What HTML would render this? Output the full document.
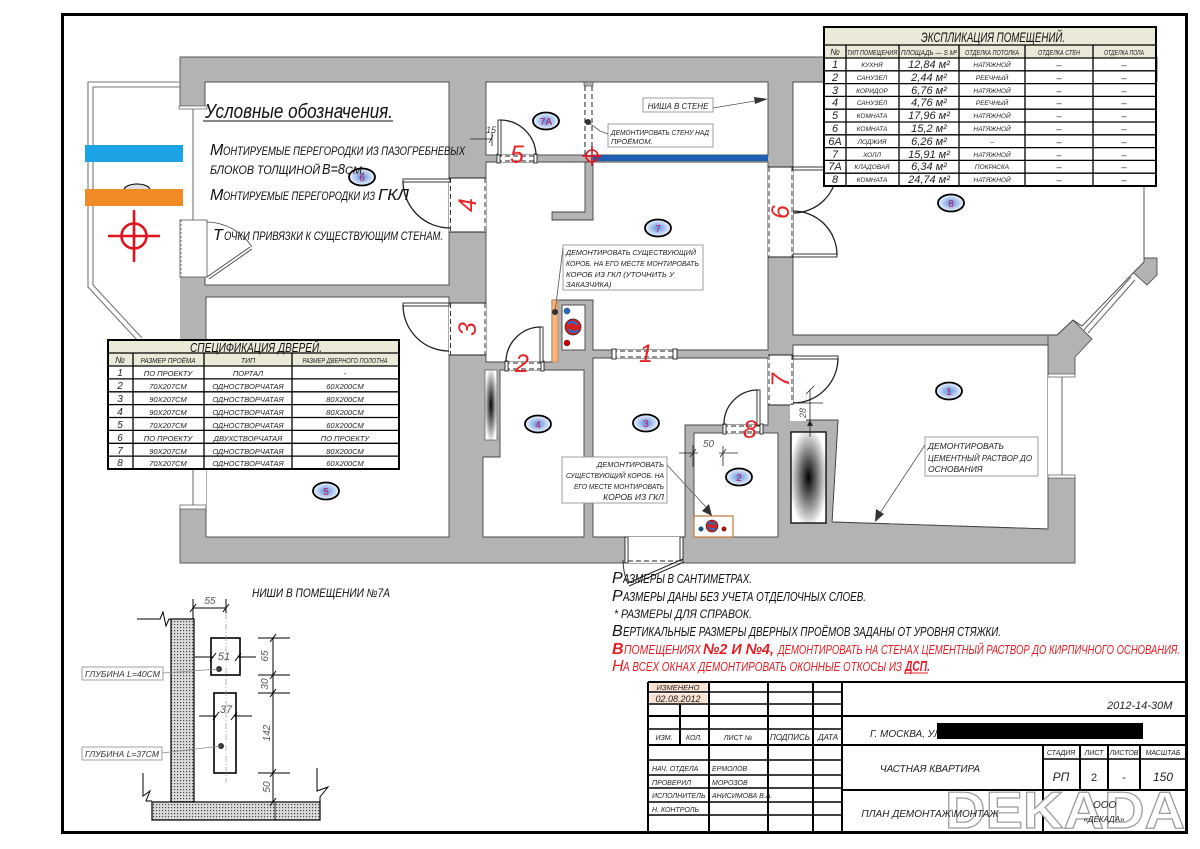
<!DOCTYPE html>
<html><head><meta charset="utf-8">
<style>
html,body{margin:0;padding:0;background:#fff;}
svg{display:block;}
svg text{font-family:"Liberation Sans","DejaVu Sans",sans-serif;font-style:italic;}
</style></head><body>
<svg width="1200" height="849" viewBox="0 0 1200 849" xmlns="http://www.w3.org/2000/svg">
<defs>
<radialGradient id="lbl" cx="50%" cy="50%" r="50%"><stop offset="0" stop-color="#5a8ee0"/><stop offset="1" stop-color="#f3f6fc"/></radialGradient>
<radialGradient id="vent" cx="50%" cy="50%" r="55%"><stop offset="0" stop-color="#000"/><stop offset="1" stop-color="#fff"/></radialGradient>
<pattern id="hatch" width="3" height="3" patternUnits="userSpaceOnUse"><rect width="3" height="3" fill="#dcdcdc"/><rect width="1.2" height="1.2" fill="#444"/></pattern>
</defs>

<!-- frame -->
<rect x="62.5" y="14.5" width="1124" height="818" fill="none" stroke="#000" stroke-width="3"/>

<!-- wall base -->
<g fill="#b3b3b3">
<rect x="180" y="57" width="895" height="506"/>
<rect x="1075" y="57" width="82" height="25"/>
<polygon points="1048,335 1057,335 1073,320 1092,339 1075,357 1075,375 1048,375"/>
<polygon points="1127,267 1135,258 1157,258 1157,275 1147,285"/>
</g>
<g fill="none" stroke="#555" stroke-width="0.9">
<polyline points="180,107 180,57 1157,57 1157,82"/>
<polyline points="180,508 180,563 1075,563 1075,477"/>
<polygon points="1048,335 1057,335 1073,320 1092,339 1075,357 1075,375 1048,375"/>
<polygon points="1127,267 1135,258 1157,258 1157,275 1147,285"/>
</g>

<!-- rooms -->
<g fill="#fff" stroke="#444" stroke-width="0.9">
<rect x="205" y="82" width="244" height="203"/>
<rect x="206" y="297" width="243" height="240"/>
<rect x="486" y="82" width="282" height="73"/>
<polygon points="486,162 768,162 768,350 593,350 593,300 552,300 552,362 486,362"/>
<polygon points="500,370 584,370 584,537 483,537 483,457 500,457"/>
<polygon points="593,358 768,358 768,425 685,425 685,537 593,537"/>
<rect x="694" y="433" width="84" height="104"/>
<polygon points="793,82 1144,82 1144,262 1136,270 1082,326 1073,320 1057,335 793,335"/>
<polygon points="793,345 1048,345 1048,529 832,522 838,420 793,420"/>
</g>
<!-- stub and shaft -->
<polygon points="585,162 593,162 593,220 552,220 552,212 585,212" fill="#b3b3b3" stroke="#444" stroke-width="0.9"/>
<rect x="562" y="305" width="23" height="45" fill="#fff" stroke="#444" stroke-width="0.9"/>
<rect x="552" y="300" width="6" height="62" fill="#f4b67c" stroke="#b07040" stroke-width="0.6"/>
<circle cx="567" cy="311" r="3" fill="#1f6fd0" stroke="#222" stroke-width="0.5"/>
<circle cx="573" cy="327" r="8" fill="#d42020" stroke="#222" stroke-width="0.7"/>
<path d="M568,324 a5,4 0 0,1 9,1 M578,330 a5,4 0 0,1 -9,-1" fill="none" stroke="#1f6fd0" stroke-width="2.2"/>
<circle cx="567" cy="343" r="3" fill="#c00" stroke="#222" stroke-width="0.5"/>

<!-- partition in 7A (dashed) -->
<rect x="584" y="82" width="9" height="73" fill="#fff"/>
<rect x="584" y="82" width="9" height="4" fill="#b3b3b3" stroke="#444" stroke-width="0.6"/>
<g stroke="#222" stroke-width="1" stroke-dasharray="5,3">
<line x1="585" y1="86" x2="585" y2="155"/><line x1="592" y1="86" x2="592" y2="155"/>
</g>
<!-- blue new partition -->
<rect x="593" y="155" width="175" height="6" fill="#1e5fb4"/>

<!-- vents -->
<rect x="485" y="370" width="12" height="70" fill="url(#vent)" stroke="#555" stroke-width="0.7"/>
<polygon points="778,420 838,420 832,522 832,537 778,537" fill="#b3b3b3"/>
<line x1="838" y1="420" x2="832" y2="522" stroke="#444" stroke-width="0.9"/>
<line x1="793" y1="420" x2="838" y2="420" stroke="#444" stroke-width="0.9"/>
<line x1="778" y1="433" x2="778" y2="537" stroke="#444" stroke-width="0.9"/>
<rect x="791" y="432" width="35" height="91" fill="url(#vent)" stroke="#000" stroke-width="1.3"/>
<polygon points="832,522 1048,529 1048,537 832,537" fill="#b3b3b3"/>
<line x1="832" y1="522" x2="1048" y2="529" stroke="#444" stroke-width="0.9"/>

<!-- windows -->
<rect x="180" y="107" width="27" height="113" fill="#fff"/>
<rect x="179" y="106" width="28" height="3" fill="#fff" stroke="#555" stroke-width="0.7"/>
<line x1="193" y1="109" x2="193" y2="220" stroke="#666" stroke-width="1"/>
<rect x="180" y="220" width="27" height="57" fill="#fff" stroke="#555" stroke-width="0.8"/>
<line x1="181" y1="220" x2="181" y2="277" stroke="#555" stroke-width="0.7" stroke-dasharray="2,2"/>
<path d="M207,277 L250,247 M209,279 L252,249" stroke="#444" stroke-width="0.9" fill="none"/>
<path d="M207,222 A55,55 0 0,1 252,247" stroke="#444" stroke-width="0.8" fill="none"/>
<rect x="180" y="345" width="26" height="163" fill="#fff"/>
<line x1="193" y1="345" x2="193" y2="505" stroke="#666" stroke-width="1"/>
<rect x="180" y="505" width="26" height="4" fill="#fff" stroke="#555" stroke-width="0.7"/>
<rect x="1048" y="375" width="28" height="102" fill="#fff"/>
<line x1="1062" y1="375" x2="1062" y2="477" stroke="#666" stroke-width="1"/>
<rect x="1048" y="374" width="27" height="3" fill="#fff" stroke="#555" stroke-width="0.7"/>
<rect x="1048" y="475" width="27" height="3" fill="#fff" stroke="#555" stroke-width="0.7"/>
<path d="M1084,330 L1131,277 M1088,333 L1135,280" stroke="#666" stroke-width="1" fill="none"/>
<!-- balcony -->
<g fill="none" stroke="#777" stroke-width="1.1">
<polyline points="180,82 88,82 88,287 138,341"/>
<polyline points="180,87 93,87 93,285 142,338"/>
</g>

<!-- doors -->
<g stroke="#222" stroke-width="0.9">
<!-- door 4 -->
<rect x="449" y="178" width="37" height="54" fill="#fff" stroke="none"/>
<line x1="449" y1="178" x2="486" y2="178"/><line x1="449" y1="232" x2="486" y2="232"/>
<line x1="450.5" y1="178" x2="450.5" y2="232" stroke-dasharray="5,3"/><line x1="485" y1="178" x2="485" y2="232" stroke-dasharray="5,3"/>
<rect x="403" y="179" width="47" height="3" fill="#fff"/>
<path d="M403,181 A47,47 0 0,0 450,228" fill="none" stroke-width="1.3"/>
<!-- door 3 -->
<rect x="449" y="303" width="37" height="52" fill="#fff" stroke="none"/>
<line x1="449" y1="303" x2="486" y2="303"/><line x1="449" y1="355" x2="486" y2="355"/>
<line x1="450.5" y1="303" x2="450.5" y2="355" stroke-dasharray="5,3"/><line x1="485" y1="303" x2="485" y2="355" stroke-dasharray="5,3"/>
<rect x="403" y="303" width="46" height="3" fill="#fff"/>
<path d="M403,305 A46,46 0 0,0 449,351" fill="none" stroke-width="1.3"/>
<!-- door 5 -->
<rect x="497" y="155" width="40" height="7" fill="#fff" stroke="none"/>
<line x1="497" y1="156" x2="537" y2="156" stroke-dasharray="5,3"/><line x1="497" y1="161" x2="537" y2="161" stroke-dasharray="5,3"/>
<rect x="497" y="154" width="3" height="9" fill="#fff"/><rect x="534" y="154" width="3" height="9" fill="#fff"/>
<rect x="498" y="120" width="3" height="35" fill="#fff"/>
<path d="M500,120 A36,36 0 0,1 536,155" fill="none" stroke-width="1.3"/>
<!-- door 2 -->
<rect x="505" y="362" width="39" height="8" fill="#fff" stroke="none"/>
<line x1="505" y1="363" x2="544" y2="363" stroke-dasharray="5,3"/><line x1="505" y1="369" x2="544" y2="369" stroke-dasharray="5,3"/>
<rect x="505" y="361" width="3" height="10" fill="#fff"/><rect x="541" y="361" width="3" height="10" fill="#fff"/>
<rect x="540" y="327" width="3" height="35" fill="#fff"/>
<path d="M541,327 A35,35 0 0,0 506,362" fill="none" stroke-width="1.3"/>
<!-- door 8 -->
<rect x="723" y="425" width="40" height="8" fill="#fff" stroke="none"/>
<line x1="723" y1="426" x2="763" y2="426" stroke-dasharray="5,3"/><line x1="723" y1="432" x2="763" y2="432" stroke-dasharray="5,3"/>
<rect x="723" y="424" width="3" height="10" fill="#fff"/><rect x="760" y="424" width="3" height="10" fill="#fff"/>
<rect x="757" y="390" width="3" height="35" fill="#fff"/>
<path d="M758,390 A34,34 0 0,0 724,425" fill="none" stroke-width="1.3"/>
<!-- door 1 -->
<rect x="612" y="350" width="65" height="8" fill="#fff" stroke="none"/>
<line x1="612" y1="351" x2="677" y2="351" stroke-dasharray="5,3"/><line x1="612" y1="357" x2="677" y2="357" stroke-dasharray="5,3"/>
<rect x="612" y="349" width="4" height="10" fill="#fff"/><rect x="673" y="349" width="4" height="10" fill="#fff"/>
<!-- door 6 -->
<rect x="768" y="167" width="25" height="90" fill="#fff" stroke="none"/>
<line x1="768" y1="167" x2="793" y2="167"/><line x1="768" y1="257" x2="793" y2="257"/>
<line x1="769" y1="167" x2="769" y2="257" stroke-dasharray="5,3"/><line x1="792" y1="167" x2="792" y2="257" stroke-dasharray="5,3"/>
<rect x="793" y="254" width="44" height="3" fill="#fff"/>
<path d="M837,255 A44,44 0 0,0 793,211" fill="none" stroke-width="1.3"/>
<rect x="793" y="167" width="44" height="3" fill="#fff"/>
<path d="M837,169 A44,44 0 0,1 793,213" fill="none" stroke-width="1.3"/>
<!-- door 7 -->
<rect x="768" y="355" width="25" height="50" fill="#fff" stroke="none"/>
<line x1="768" y1="355" x2="793" y2="355"/><line x1="768" y1="405" x2="793" y2="405"/>
<line x1="769" y1="355" x2="769" y2="405" stroke-dasharray="5,3"/><line x1="792" y1="355" x2="792" y2="405" stroke-dasharray="5,3"/>
<rect x="793" y="356" width="45" height="3" fill="#fff"/>
<path d="M838,358 A45,45 0 0,1 793,403" fill="none" stroke-width="1.3"/>
<!-- entry door -->
<rect x="625" y="537" width="58" height="26" fill="#fff" stroke="none"/>
<rect x="625" y="537" width="3" height="26" fill="#fff"/><rect x="680" y="537" width="3" height="24" fill="#fff"/>
<line x1="628" y1="561" x2="680" y2="561" stroke-dasharray="5,3"/>
<path d="M683,559 L628,583 M684,562 L629,586" fill="none" stroke-width="1"/>
<path d="M628,584 A60,60 0 0,1 623,560" fill="none"/>
</g>

<!-- red door numbers -->
<g fill="#e52528" font-size="25" text-anchor="middle">
<text x="517" y="163">5</text>
<text x="646" y="362">1</text>
<text x="522" y="372">2</text>
<text x="750" y="438">8</text>
<text transform="translate(468,205) rotate(-90)" y="8">4</text>
<text transform="translate(468,329) rotate(-90)" y="8">3</text>
<text transform="translate(781,212) rotate(-90)" y="8">6</text>
<text transform="translate(781,380) rotate(-90)" y="8">7</text>
</g>

<!-- red crosshair in plan -->
<g stroke="#e0141e" stroke-width="1.6" fill="none">
<circle cx="592" cy="156" r="6"/><line x1="582" y1="156" x2="602" y2="156"/><line x1="592" y1="146" x2="592" y2="166"/>
</g>

<!-- dimensions in plan -->
<g stroke="#222" stroke-width="0.8" fill="none">
<line x1="470" y1="139" x2="492" y2="139"/><line x1="489" y1="143" x2="493" y2="135"/><line x1="492" y1="132" x2="492" y2="146"/>
<line x1="679" y1="453" x2="698" y2="453"/><line x1="719" y1="453" x2="738" y2="453"/>
<line x1="693" y1="445" x2="693" y2="467"/><line x1="723" y1="446" x2="723" y2="466"/>
<line x1="690" y1="457" x2="696" y2="449"/><line x1="720" y1="457" x2="726" y2="449"/>
<line x1="810" y1="390" x2="810" y2="437"/><line x1="795" y1="403" x2="823" y2="403"/>
<line x1="806" y1="394" x2="814" y2="386"/>
</g>
<path d="M810,420 l-3,6 l6,0 z" fill="#222"/>
<rect x="790" y="405" width="16" height="16" fill="#fff"/>
<text x="486" y="133" font-size="9" fill="#444">15</text>
<text x="703" y="447" font-size="10" fill="#555">50</text>
<text transform="translate(803,413) rotate(-90)" font-size="9" fill="#555" text-anchor="middle" y="3">28</text>

<!-- shaft in room 2 -->
<rect x="694" y="516" width="39" height="21" fill="#fff" stroke="#c07838" stroke-width="1.2"/>
<circle cx="712" cy="526" r="6" fill="#d42020" stroke="#222" stroke-width="0.6"/>
<path d="M708,524 a4,3 0 0,1 7,1 M716,528 a4,3 0 0,1 -7,-1" fill="none" stroke="#1f6fd0" stroke-width="1.8"/>
<circle cx="701" cy="529" r="2.5" fill="#1f4f90"/><circle cx="724" cy="529" r="2.5" fill="#a01818"/>

<!-- annotation boxes -->
<g fill="#fff" stroke="#888" stroke-width="0.8">
<rect x="643" y="98" width="70" height="14"/>
<rect x="608" y="124" width="105" height="23"/>
<rect x="563" y="245" width="140" height="45"/>
<rect x="562" y="457" width="105" height="46"/>
<rect x="925" y="437" width="113" height="39"/>
</g>
<g stroke="#555" stroke-width="0.8" fill="none">
<line x1="713" y1="108" x2="755" y2="101"/>
<polyline points="588,122 600,131 608,134"/>
<line x1="563" y1="248" x2="555" y2="312"/>
<line x1="667" y1="465" x2="706" y2="507"/>
<line x1="925" y1="445" x2="880" y2="513"/>
</g>
<polygon points="768,99 754,97 755,104" fill="#333"/>
<polygon points="712,516 702,511 709,504" fill="#333"/>
<polygon points="875,522 876,509 884,514" fill="#333"/>
<circle cx="588" cy="122" r="3" fill="#333"/>
<circle cx="555" cy="312" r="3" fill="#333"/>
<g font-size="7.5" fill="#222">
<text x="678" y="109" text-anchor="middle" font-size="8">НИША В СТЕНЕ</text>
<text x="611" y="135" textLength="98" lengthAdjust="spacingAndGlyphs">ДЕМОНТИРОВАТЬ СТЕНУ НАД</text>
<text x="611" y="144">ПРОЁМОМ.</text>
<text x="566" y="255" textLength="130" lengthAdjust="spacingAndGlyphs">ДЕМОНТИРОВАТЬ СУЩЕСТВУЮЩИЙ</text>
<text x="566" y="266" textLength="133" lengthAdjust="spacingAndGlyphs">КОРОБ. НА ЕГО МЕСТЕ МОНТИРОВАТЬ</text>
<text x="566" y="277" textLength="108" lengthAdjust="spacingAndGlyphs">КОРОБ ИЗ ГКЛ (УТОЧНИТЬ У</text>
<text x="566" y="287">ЗАКАЗЧИКА)</text>
<text x="664" y="467" text-anchor="end">ДЕМОНТИРОВАТЬ</text>
<text x="664" y="478" text-anchor="end" textLength="98" lengthAdjust="spacingAndGlyphs">СУЩЕСТВУЮЩИЙ КОРОБ. НА</text>
<text x="664" y="489" text-anchor="end" textLength="90" lengthAdjust="spacingAndGlyphs">ЕГО МЕСТЕ МОНТИРОВАТЬ</text>
<text x="664" y="500" text-anchor="end" font-size="8.5">КОРОБ ИЗ ГКЛ</text>
<text x="928" y="449" font-size="8.5">ДЕМОНТИРОВАТЬ</text>
<text x="928" y="461" font-size="8.5" textLength="104" lengthAdjust="spacingAndGlyphs">ЦЕМЕНТНЫЙ РАСТВОР ДО</text>
<text x="928" y="472" font-size="8.5">ОСНОВАНИЯ</text>
</g>

<!-- room labels -->
<g stroke="#000" stroke-width="1.8" fill="url(#lbl)">
<ellipse cx="546" cy="121" rx="13" ry="8.5"/>
<ellipse cx="362" cy="177" rx="13" ry="8.5"/>
<ellipse cx="658" cy="228" rx="13" ry="8.5"/>
<ellipse cx="951" cy="203" rx="13" ry="8.5"/>
<ellipse cx="326" cy="491" rx="13" ry="8.5"/>
<ellipse cx="538" cy="424" rx="13" ry="8.5"/>
<ellipse cx="646" cy="423" rx="13" ry="8.5"/>
<ellipse cx="739" cy="477" rx="13" ry="8.5"/>
<ellipse cx="949" cy="391" rx="13" ry="8.5"/>
</g>
<g fill="#c3185a" font-size="10" text-anchor="middle" style="font-style:normal">
<text x="546" y="125" style="font-style:normal">7А</text>
<text x="362" y="181" style="font-style:normal">6</text>
<text x="658" y="232" style="font-style:normal">7</text>
<text x="951" y="207" style="font-style:normal">8</text>
<text x="326" y="495" style="font-style:normal">5</text>
<text x="538" y="428" style="font-style:normal">4</text>
<text x="646" y="427" style="font-style:normal">3</text>
<text x="739" y="481" style="font-style:normal">2</text>
<text x="949" y="395" style="font-style:normal">1</text>
</g>

<!-- legend -->
<rect x="85" y="145" width="98" height="17" fill="#1ba3e6"/>
<path d="M124,190 A13,6 0 0,1 150,190" fill="#ddd" stroke="#000" stroke-width="1"/>
<rect x="85" y="189" width="98" height="17" fill="#f08a24"/>
<g stroke="#e0141e" stroke-width="2.6" fill="none">
<circle cx="134" cy="236" r="12.5"/><line x1="108" y1="236" x2="160" y2="236"/><line x1="134" y1="210" x2="134" y2="262"/>
</g>
<g fill="#111">
<text x="205" y="118" font-size="20" textLength="188" lengthAdjust="spacingAndGlyphs">Условные обозначения.</text>
<line x1="203" y1="121" x2="393" y2="121" stroke="#111" stroke-width="1"/>
<text x="210" y="155" font-size="16">М</text>
<text x="223" y="155" font-size="12" textLength="242" lengthAdjust="spacingAndGlyphs">ОНТИРУЕМЫЕ ПЕРЕГОРОДКИ ИЗ ПАЗОГРЕБНЕВЫХ</text>
<text x="210" y="174" font-size="12" textLength="110" lengthAdjust="spacingAndGlyphs">БЛОКОВ ТОЛЩИНОЙ</text>
<text x="322" y="174" font-size="15" textLength="23" lengthAdjust="spacingAndGlyphs">В=8</text>
<text x="345" y="174" font-size="11">СМ.</text>
<text x="210" y="200" font-size="16">М</text>
<text x="223" y="200" font-size="12" textLength="152" lengthAdjust="spacingAndGlyphs">ОНТИРУЕМЫЕ ПЕРЕГОРОДКИ ИЗ</text>
<text x="378" y="200" font-size="16" textLength="31" lengthAdjust="spacingAndGlyphs">ГКЛ</text>
<text x="213" y="240" font-size="16">Т</text>
<text x="224" y="240" font-size="12" textLength="219" lengthAdjust="spacingAndGlyphs">ОЧКИ ПРИВЯЗКИ К СУЩЕСТВУЮЩИМ СТЕНАМ.</text>
</g>

<!-- explication table -->
<g>
<rect x="824" y="27" width="332" height="31" fill="#ebe9d8"/>
<rect x="824" y="58" width="332" height="128" fill="#fff"/>
<g stroke="#000" stroke-width="1.3" fill="none">
<rect x="824" y="27" width="332" height="159" stroke-width="2"/>
<line x1="824" y1="45" x2="1156" y2="45"/>
<line x1="824" y1="58" x2="1156" y2="58"/>
<line x1="824" y1="70.8" x2="1156" y2="70.8"/>
<line x1="824" y1="83.6" x2="1156" y2="83.6"/>
<line x1="824" y1="96.4" x2="1156" y2="96.4"/>
<line x1="824" y1="109.2" x2="1156" y2="109.2"/>
<line x1="824" y1="122" x2="1156" y2="122"/>
<line x1="824" y1="134.8" x2="1156" y2="134.8"/>
<line x1="824" y1="147.6" x2="1156" y2="147.6"/>
<line x1="824" y1="160.4" x2="1156" y2="160.4"/>
<line x1="824" y1="173.2" x2="1156" y2="173.2"/>
<line x1="846" y1="45" x2="846" y2="186"/>
<line x1="899" y1="45" x2="899" y2="186"/>
<line x1="959" y1="45" x2="959" y2="186"/>
<line x1="1025" y1="45" x2="1025" y2="186"/>
<line x1="1093" y1="45" x2="1093" y2="186"/>
</g>
<text x="921" y="42" font-size="14" textLength="144" lengthAdjust="spacingAndGlyphs" fill="#111">ЭКСПЛИКАЦИЯ ПОМЕЩЕНИЙ.</text>
<g font-size="7" fill="#222" text-anchor="middle">
<text x="835" y="55" font-size="9">№</text>
<text x="872" y="55" textLength="50" lengthAdjust="spacingAndGlyphs">ТИП ПОМЕЩЕНИЯ</text>
<text x="929" y="55" textLength="56" lengthAdjust="spacingAndGlyphs">ПЛОЩАДЬ — S М²</text>
<text x="992" y="55" textLength="54" lengthAdjust="spacingAndGlyphs">ОТДЕЛКА ПОТОЛКА</text>
<text x="1059" y="55" textLength="42" lengthAdjust="spacingAndGlyphs">ОТДЕЛКА СТЕН</text>
<text x="1124" y="55" textLength="40" lengthAdjust="spacingAndGlyphs">ОТДЕЛКА ПОЛА</text>
</g>
<g fill="#222" text-anchor="middle">
<g font-size="11">
<text x="835" y="68">1</text><text x="835" y="81">2</text><text x="835" y="94">3</text><text x="835" y="106">4</text><text x="835" y="119">5</text><text x="835" y="132">6</text><text x="835" y="145">6А</text><text x="835" y="158">7</text><text x="835" y="170">7А</text><text x="835" y="183">8</text>
<text x="929" y="68">12,84 м²</text><text x="929" y="81">2,44 м²</text><text x="929" y="94">6,76 м²</text><text x="929" y="106">4,76 м²</text><text x="929" y="119">17,96 м²</text><text x="929" y="132">15,2 м²</text><text x="929" y="145">6,26 м²</text><text x="929" y="158">15,91 м²</text><text x="929" y="170">6,34 м²</text><text x="929" y="183">24,74 м²</text>
</g>
<g font-size="6.5">
<text x="872" y="67">КУХНЯ</text><text x="872" y="80">САНУЗЕЛ</text><text x="872" y="93">КОРИДОР</text><text x="872" y="105">САНУЗЕЛ</text><text x="872" y="118">КОМНАТА</text><text x="872" y="131">КОМНАТА</text><text x="872" y="144">ЛОДЖИЯ</text><text x="872" y="157">ХОЛЛ</text><text x="872" y="169">КЛАДОВАЯ</text><text x="872" y="182">КОМНАТА</text>
<text x="992" y="67">НАТЯЖНОЙ</text><text x="992" y="80">РЕЕЧНЫЙ</text><text x="992" y="93">НАТЯЖНОЙ</text><text x="992" y="105">РЕЕЧНЫЙ</text><text x="992" y="118">НАТЯЖНОЙ</text><text x="992" y="131">НАТЯЖНОЙ</text><text x="992" y="144">–</text><text x="992" y="157">НАТЯЖНОЙ</text><text x="992" y="169">ПОКРАСКА</text><text x="992" y="182">НАТЯЖНОЙ</text>
</g>
<g font-size="9">
<text x="1059" y="68">–</text><text x="1059" y="81">–</text><text x="1059" y="94">–</text><text x="1059" y="106">–</text><text x="1059" y="119">–</text><text x="1059" y="132">–</text><text x="1059" y="145">–</text><text x="1059" y="158">–</text><text x="1059" y="170">–</text><text x="1059" y="183">–</text>
<text x="1124" y="68">–</text><text x="1124" y="81">–</text><text x="1124" y="94">–</text><text x="1124" y="106">–</text><text x="1124" y="119">–</text><text x="1124" y="132">–</text><text x="1124" y="145">–</text><text x="1124" y="158">–</text><text x="1124" y="170">–</text><text x="1124" y="183">–</text>
</g>
</g>
</g>

<!-- door spec table -->
<g>
<rect x="108" y="340" width="291" height="26" fill="#ebe9d8"/>
<rect x="108" y="366" width="291" height="103" fill="#fff"/>
<g stroke="#000" stroke-width="1.3" fill="none">
<rect x="108" y="340" width="291" height="129" stroke-width="2"/>
<line x1="108" y1="353" x2="399" y2="353"/>
<line x1="108" y1="366" x2="399" y2="366"/>
<line x1="108" y1="378.9" x2="399" y2="378.9"/>
<line x1="108" y1="391.8" x2="399" y2="391.8"/>
<line x1="108" y1="404.6" x2="399" y2="404.6"/>
<line x1="108" y1="417.5" x2="399" y2="417.5"/>
<line x1="108" y1="430.4" x2="399" y2="430.4"/>
<line x1="108" y1="443.3" x2="399" y2="443.3"/>
<line x1="108" y1="456.1" x2="399" y2="456.1"/>
<line x1="133" y1="353" x2="133" y2="469"/>
<line x1="204" y1="353" x2="204" y2="469"/>
<line x1="292" y1="353" x2="292" y2="469"/>
</g>
<text x="190" y="352" font-size="13" textLength="132" lengthAdjust="spacingAndGlyphs" fill="#111">СПЕЦИФИКАЦИЯ ДВЕРЕЙ.</text>
<g font-size="7" fill="#222" text-anchor="middle">
<text x="120" y="363" font-size="9">№</text>
<text x="168" y="363" textLength="55" lengthAdjust="spacingAndGlyphs">РАЗМЕР ПРОЁМА</text>
<text x="248" y="363">ТИП</text>
<text x="345" y="363" textLength="85" lengthAdjust="spacingAndGlyphs">РАЗМЕР ДВЕРНОГО ПОЛОТНА</text>
</g>
<g fill="#222" text-anchor="middle">
<g font-size="10">
<text x="120" y="376">1</text><text x="120" y="389">2</text><text x="120" y="402">3</text><text x="120" y="415">4</text><text x="120" y="428">5</text><text x="120" y="441">6</text><text x="120" y="454">7</text><text x="120" y="466">8</text>
</g>
<g font-size="7.5">
<text x="168" y="376">ПО ПРОЕКТУ</text><text x="168" y="389">70Х207СМ</text><text x="168" y="402">90Х207СМ</text><text x="168" y="415">90Х207СМ</text><text x="168" y="428">70Х207СМ</text><text x="168" y="441">ПО ПРОЕКТУ</text><text x="168" y="454">90Х207СМ</text><text x="168" y="466">70Х207СМ</text>
<text x="248" y="376">ПОРТАЛ</text><text x="248" y="389">ОДНОСТВОРЧАТАЯ</text><text x="248" y="402">ОДНОСТВОРЧАТАЯ</text><text x="248" y="415">ОДНОСТВОРЧАТАЯ</text><text x="248" y="428">ОДНОСТВОРЧАТАЯ</text><text x="248" y="441">ДВУХСТВОРЧАТАЯ</text><text x="248" y="454">ОДНОСТВОРЧАТАЯ</text><text x="248" y="466">ОДНОСТВОРЧАТАЯ</text>
<text x="345" y="376">-</text><text x="345" y="389">60Х200СМ</text><text x="345" y="402">80Х200СМ</text><text x="345" y="415">80Х200СМ</text><text x="345" y="428">60Х200СМ</text><text x="345" y="441">ПО ПРОЕКТУ</text><text x="345" y="454">80Х200СМ</text><text x="345" y="466">60Х200СМ</text>
</g>
</g>
</g>

<!-- notes -->
<g fill="#111">
<text x="612" y="583" font-size="16">Р</text>
<text x="623" y="583" font-size="12.5" textLength="129" lengthAdjust="spacingAndGlyphs">АЗМЕРЫ В САНТИМЕТРАХ.</text>
<text x="612" y="601" font-size="16">Р</text>
<text x="623" y="601" font-size="12.5" textLength="243" lengthAdjust="spacingAndGlyphs">АЗМЕРЫ ДАНЫ БЕЗ УЧЕТА ОТДЕЛОЧНЫХ СЛОЕВ.</text>
<text x="614" y="618" font-size="12" textLength="138" lengthAdjust="spacingAndGlyphs">* РАЗМЕРЫ ДЛЯ СПРАВОК.</text>
<text x="612" y="636" font-size="16">В</text>
<text x="623" y="636" font-size="12.5" textLength="378" lengthAdjust="spacingAndGlyphs">ЕРТИКАЛЬНЫЕ РАЗМЕРЫ ДВЕРНЫХ ПРОЁМОВ ЗАДАНЫ ОТ УРОВНЯ СТЯЖКИ.</text>
</g>
<g fill="#e31e24">
<text x="612" y="654" font-size="16" font-weight="bold">В</text>
<text x="624" y="654" font-size="12.5" textLength="77" lengthAdjust="spacingAndGlyphs">ПОМЕЩЕНИЯХ</text>
<text x="703" y="654" font-size="15" font-weight="bold" textLength="71" lengthAdjust="spacingAndGlyphs">№2 И №4,</text>
<text x="778" y="654" font-size="12.5" textLength="402" lengthAdjust="spacingAndGlyphs">ДЕМОНТИРОВАТЬ НА СТЕНАХ ЦЕМЕНТНЫЙ РАСТВОР ДО КИРПИЧНОГО ОСНОВАНИЯ.</text>
<text x="612" y="671" font-size="16">Н</text>
<text x="623" y="671" font-size="12.5" textLength="279" lengthAdjust="spacingAndGlyphs">А ВСЕХ ОКНАХ ДЕМОНТИРОВАТЬ ОКОННЫЕ ОТКОСЫ ИЗ</text>
<text x="905" y="671" font-size="15" font-weight="bold" textLength="25" lengthAdjust="spacingAndGlyphs">ДСП.</text>
<line x1="905" y1="673" x2="928" y2="673" stroke="#e31e24" stroke-width="1"/>
</g>

<!-- niches drawing -->
<text x="252" y="597" font-size="12" textLength="138" lengthAdjust="spacingAndGlyphs" fill="#111">НИШИ В ПОМЕЩЕНИИ №7А</text>
<rect x="171" y="619" width="23" height="183" fill="url(#hatch)" stroke="#000" stroke-width="1.2"/>
<rect x="152" y="802" width="168" height="18" fill="url(#hatch)" stroke="#000" stroke-width="1.2"/>
<line x1="275" y1="802" x2="275" y2="820" stroke="#000" stroke-width="0.8"/>
<g fill="none" stroke="#000" stroke-width="1">
<polyline points="137,619 160,619 163,612 166,626 169,619 171,619"/>
<polyline points="143,773 143,796 150,791 146,801 152,801"/>
<polyline points="317,768 317,791 328,787 320,797 320,802"/>
<line x1="193" y1="608" x2="226" y2="608"/><line x1="193" y1="599" x2="193" y2="619"/><line x1="226" y1="599" x2="226" y2="613"/>
<line x1="190" y1="612" x2="196" y2="604"/><line x1="223" y1="612" x2="229" y2="604"/>
<rect x="211" y="638" width="29" height="37" stroke-width="1.6" fill="#fff"/>
<rect x="214" y="693" width="22" height="80" stroke-width="1.6" fill="#fff"/>
<line x1="195" y1="657" x2="213" y2="657"/><line x1="238" y1="657" x2="256" y2="657"/>
<line x1="210" y1="661" x2="216" y2="653"/><line x1="235" y1="661" x2="241" y2="653"/>
<line x1="199" y1="716" x2="216" y2="716"/><line x1="234" y1="716" x2="252" y2="716"/>
<line x1="213" y1="720" x2="219" y2="712"/><line x1="231" y1="720" x2="237" y2="712"/>
<line x1="273" y1="638" x2="273" y2="802"/>
<line x1="258" y1="638" x2="290" y2="638"/><line x1="258" y1="675" x2="290" y2="675"/><line x1="258" y1="693" x2="290" y2="693"/><line x1="258" y1="773" x2="290" y2="773"/>
<line x1="270" y1="642" x2="276" y2="634"/><line x1="270" y1="679" x2="276" y2="671"/><line x1="270" y1="697" x2="276" y2="689"/><line x1="270" y1="777" x2="276" y2="769"/><line x1="270" y1="806" x2="276" y2="798"/>
</g>
<line x1="226" y1="613" x2="226" y2="783" stroke="#999" stroke-width="0.7" stroke-dasharray="6,2,1,2"/>
<g fill="#555" font-size="10">
<text x="210" y="604" text-anchor="middle">55</text>
<text x="224" y="660" text-anchor="middle" font-size="11">51</text>
<text x="226" y="713" text-anchor="middle" font-size="11">37</text>
<text transform="translate(265,656) rotate(-90)" text-anchor="middle" y="3">65</text>
<text transform="translate(265,684) rotate(-90)" text-anchor="middle" y="3">30</text>
<text transform="translate(267,733) rotate(-90)" text-anchor="middle" y="3">142</text>
<text transform="translate(267,787) rotate(-90)" text-anchor="middle" y="3">50</text>
</g>
<circle cx="219" cy="669" r="3" fill="#333"/><circle cx="221" cy="746" r="3" fill="#333"/>
<g stroke="#888" stroke-width="0.8">
<rect x="82" y="667" width="81" height="13" fill="#fff"/>
<rect x="82" y="747" width="80" height="13" fill="#fff"/>
<line x1="163" y1="673" x2="219" y2="669"/>
<line x1="162" y1="753" x2="221" y2="746"/>
</g>
<text x="85" y="677" font-size="8.5" textLength="75" lengthAdjust="spacingAndGlyphs" fill="#333">ГЛУБИНА L=40СМ</text>
<text x="85" y="757" font-size="8.5" textLength="74" lengthAdjust="spacingAndGlyphs" fill="#333">ГЛУБИНА L=37СМ</text>

<!-- title block -->
<rect x="650" y="683" width="57" height="9" fill="#fbe2d0"/>
<rect x="650" y="694" width="57" height="9" fill="#fbe2d0"/>
<g stroke="#000" stroke-width="2" fill="none">
<line x1="648" y1="682" x2="1187" y2="682"/>
<line x1="648" y1="682" x2="648" y2="832"/>
<line x1="680" y1="704" x2="680" y2="745"/>
<line x1="709" y1="682" x2="709" y2="832"/>
<line x1="768" y1="682" x2="768" y2="832"/>
<line x1="813" y1="682" x2="813" y2="832"/>
<line x1="842" y1="682" x2="842" y2="832"/>
<line x1="648" y1="692" x2="842" y2="692" stroke-width="1.5"/>
<line x1="648" y1="704" x2="842" y2="704" stroke-width="1.5"/>
<line x1="648" y1="716" x2="1187" y2="716"/>
<line x1="648" y1="729" x2="842" y2="729" stroke-width="1.5"/>
<line x1="648" y1="745" x2="1187" y2="745"/>
<line x1="648" y1="760" x2="842" y2="760" stroke-width="1.5"/>
<line x1="648" y1="775" x2="842" y2="775" stroke-width="1.5"/>
<line x1="648" y1="788" x2="842" y2="788" stroke-width="1.5"/>
<line x1="648" y1="802" x2="842" y2="802" stroke-width="1.5"/>
<line x1="648" y1="815" x2="842" y2="815" stroke-width="1.5"/>
<line x1="842" y1="790" x2="1187" y2="790"/>
<line x1="1043" y1="745" x2="1043" y2="832"/>
<line x1="1080" y1="745" x2="1080" y2="790"/>
<line x1="1108" y1="745" x2="1108" y2="790"/>
<line x1="1140" y1="745" x2="1140" y2="790"/>
<line x1="1043" y1="759" x2="1187" y2="759" stroke-width="1.5"/>
</g>
<g fill="#222" font-size="7">
<text x="678" y="690" text-anchor="middle" font-size="7.5">ИЗМЕНЕНО</text>
<text x="678" y="702" text-anchor="middle" font-size="9">02.08.2012</text>
<text x="664" y="740" text-anchor="middle">ИЗМ.</text>
<text x="694" y="740" text-anchor="middle">КОЛ.</text>
<text x="738" y="740" text-anchor="middle">ЛИСТ №</text>
<text x="790" y="740" text-anchor="middle" font-size="8">ПОДПИСЬ</text>
<text x="828" y="740" text-anchor="middle" font-size="8">ДАТА</text>
<text x="652" y="771">НАЧ. ОТДЕЛА</text><text x="712" y="771">ЕРМОЛОВ</text>
<text x="652" y="785">ПРОВЕРИЛ</text><text x="712" y="785">МОРОЗОВ</text>
<text x="652" y="798">ИСПОЛНИТЕЛЬ</text><text x="712" y="798">АНИСИМОВА В.А.</text>
<text x="652" y="812">Н. КОНТРОЛЬ</text>
<text x="1107" y="709" font-size="11">2012-14-30М</text>
<text x="870" y="737" font-size="10">Г. МОСКВА, УЛ.</text>
<text x="930" y="772" font-size="10" text-anchor="middle">ЧАСТНАЯ КВАРТИРА</text>
<text x="1061" y="755" text-anchor="middle">СТАДИЯ</text>
<text x="1094" y="755" text-anchor="middle">ЛИСТ</text>
<text x="1124" y="755" text-anchor="middle">ЛИСТОВ</text>
<text x="1163" y="755" text-anchor="middle">МАСШТАБ</text>
<text x="1061" y="781" text-anchor="middle" font-size="12">РП</text>
<text x="1094" y="781" text-anchor="middle" font-size="11" style="font-style:normal">2</text>
<text x="1124" y="781" text-anchor="middle" font-size="11">-</text>
<text x="1163" y="781" text-anchor="middle" font-size="12">150</text>
</g>
<rect x="937" y="723" width="206" height="16" fill="#000"/>
<text x="945" y="828" font-size="52" font-weight="bold" textLength="240" lengthAdjust="spacingAndGlyphs" fill="#fff" stroke="#9a9a9a" stroke-width="1.2" style="font-style:normal">DEKADA</text>
<g fill="#222">
<text x="930" y="817" font-size="10" text-anchor="middle">ПЛАН ДЕМОНТАЖ\МОНТАЖ</text>
<text x="1093" y="808" font-size="10">ООО</text>
<text x="1104" y="822" font-size="8" text-anchor="middle">«ДЕКАДА»</text>
</g>
</svg>
</body></html>
